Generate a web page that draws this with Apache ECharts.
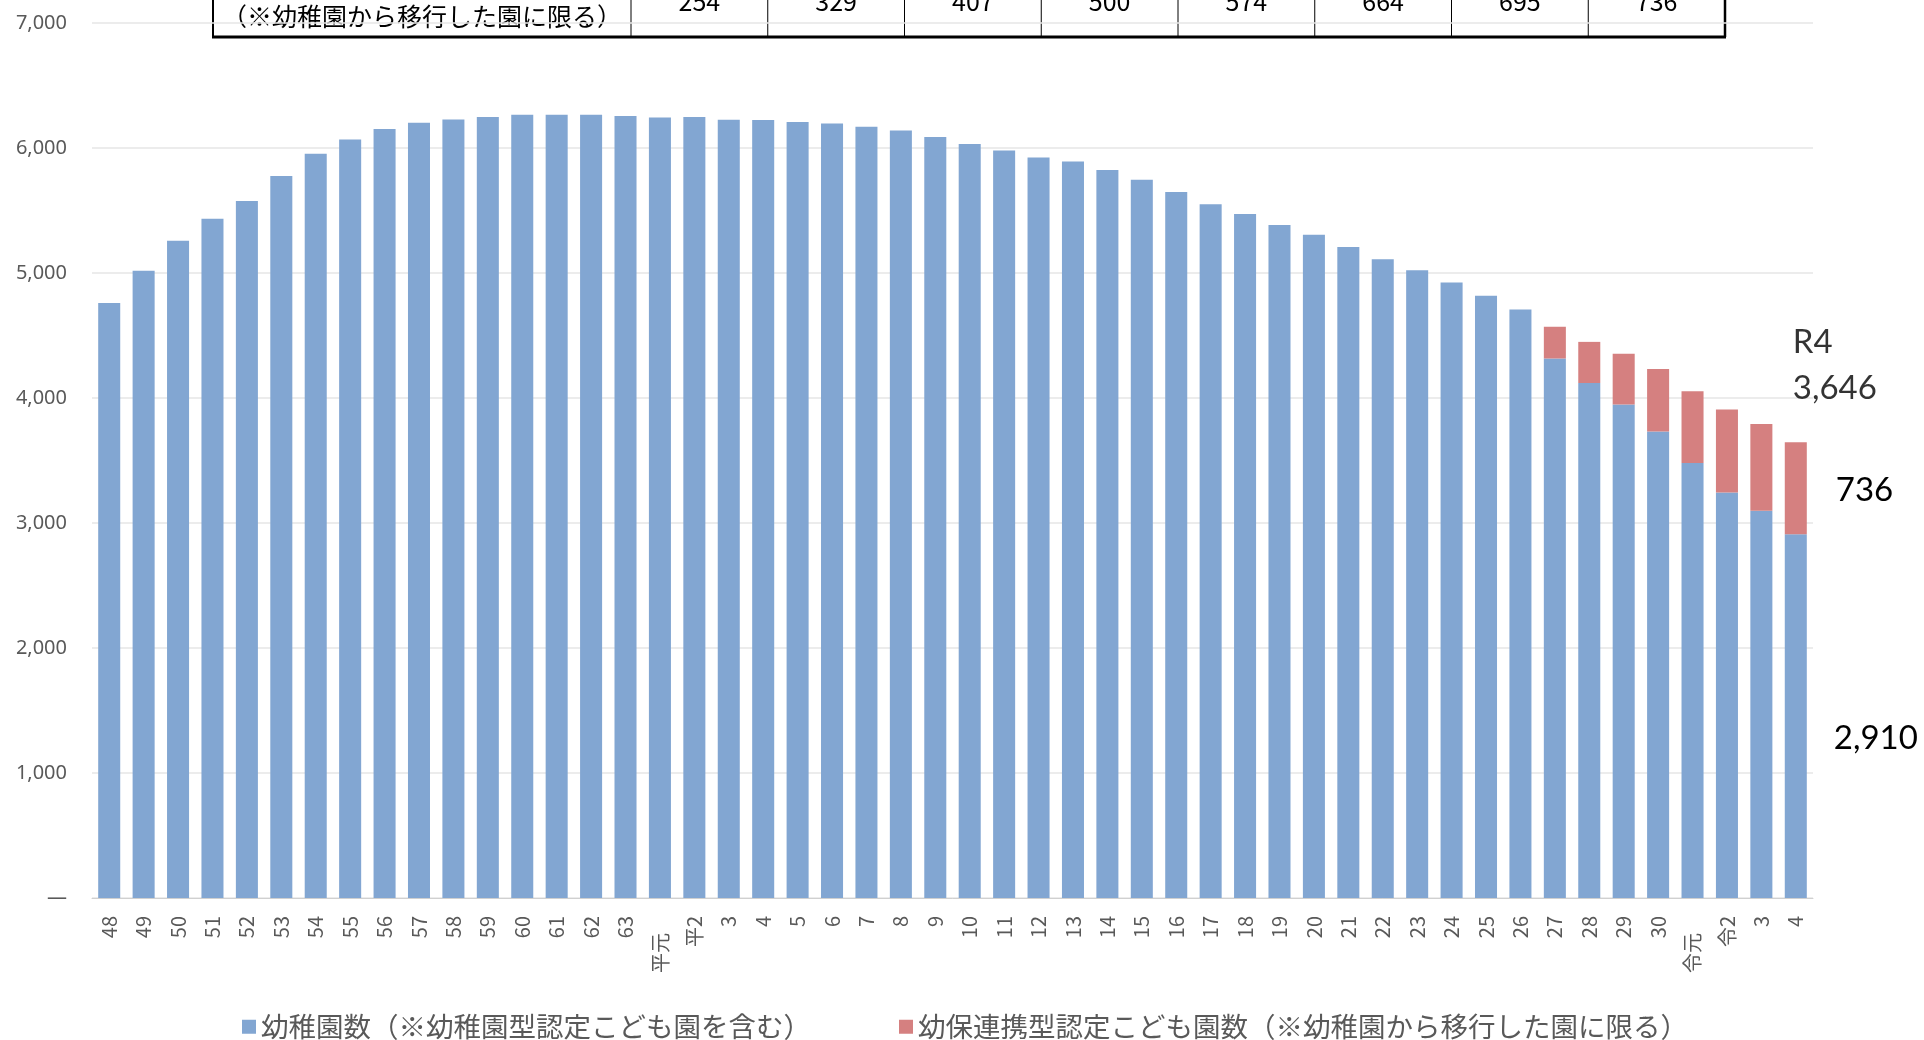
<!DOCTYPE html>
<html><head><meta charset="utf-8">
<script src="https://cdn.jsdelivr.net/npm/echarts@6/dist/echarts.min.js"></script>
<style>html,body{margin:0;padding:0;background:#fff}#c{width:1924px;height:1040px}</style>
</head><body><div id="c"></div>
<script>
const categories = ['48','49','50','51','52','53','54','55','56','57','58','59','60','61','62','63',
  '平元','平2','3','4','5','6','7','8','9','10','11','12','13','14','15','16','17','18','19','20',
  '21','22','23','24','25','26','27','28','29','30','令元','令2','3','4'];
const kindergartens = [4760,5018,5258,5434,5576,5776,5954,6069,6152,6202,6229,6248,6266,6266,6266,6256,
  6245,6248,6226,6224,6208,6197,6170,6141,6088,6032,5981,5925,5893,5824,5746,5648,5551,5473,5385,5306,
  5209,5111,5023,4925,4818,4709,4316,4120,3948,3733,3480,3245,3098,2910];
const kodomoen = [null,null,null,null,null,null,null,null,null,null,null,null,null,null,null,null,
  null,null,null,null,null,null,null,null,null,null,null,null,null,null,null,null,null,null,null,null,
  null,null,null,null,null,null,254,329,407,500,574,664,695,736];
const seriesNames = ['幼稚園数（※幼稚園型認定こども園を含む）','幼保連携型認定こども園数（※幼稚園から移行した園に限る）'];
const tableRowLabel = '（※幼稚園から移行した園に限る）';
const latestLabel = 'R4';

const fmt = v => v.toLocaleString('en-US');
const last = categories.length - 1;
const total = kindergartens[last] + kodomoen[last];

const blueData = kindergartens.map((v, i) => i === last ? {
  value: v,
  label: {show: true, position: 'right', distance: 27, offset: [0, 22], formatter: p => fmt(p.value),
    color: '#000', fontSize: 33, fontFamily: 'Lato'}
} : v);
const redData = kodomoen.map((v, i) => i === last ? {
  value: v,
  label: {show: true, position: 'right', distance: 29, offset: [0, 2], formatter: p => fmt(p.value),
    color: '#000', fontSize: 33, fontFamily: 'Lato'}
} : v);

// table (top, partially cut off)
const tableVals = kodomoen.filter(v => v !== null);
const tL = 213, tFirst = 631, tR = 1725, tBottom = 37;
const colW = (tR - tFirst) / tableVals.length;
const graphics = [];
graphics.push({type: 'line', shape: {x1: tL, y1: -5, x2: tL, y2: tBottom}, style: {stroke: '#000', lineWidth: 2}});
graphics.push({type: 'line', shape: {x1: tR, y1: -5, x2: tR, y2: tBottom}, style: {stroke: '#000', lineWidth: 2.5}});
graphics.push({type: 'line', shape: {x1: tL - 1, y1: tBottom, x2: tR + 1, y2: tBottom}, style: {stroke: '#000', lineWidth: 3}});
for (let k = 0; k < tableVals.length; k++) {
  const x = tFirst + k * colW;
  graphics.push({type: 'line', shape: {x1: x, y1: -5, x2: x, y2: tBottom - 1}, style: {stroke: '#000', lineWidth: 1}});
  graphics.push({type: 'text', x: x + colW / 2, y: 1, style: {text: String(tableVals[k]), fill: '#000',
    font: '25px "Noto Sans CJK JP"', textAlign: 'center', textVerticalAlign: 'middle'}});
}
graphics.push({type: 'text', x: (tL + tFirst) / 2, y: 16, style: {text: tableRowLabel, fill: '#000',
  font: '25px "Noto Sans CJK JP"', textAlign: 'center', textVerticalAlign: 'middle'}});

const chart = echarts.init(document.getElementById('c'), null, {renderer: 'canvas'});
chart.setOption({
  backgroundColor: '#fff',
  animation: false,
  grid: {left: 92, right: 111, top: 23, bottom: 142, containLabel: false},
  legend: {
    data: seriesNames, left: 237, top: 1008, itemWidth: 14, itemHeight: 14, itemGap: 88,
    icon: 'rect',
    textStyle: {color: '#595959', fontSize: 27.5, fontFamily: 'Noto Sans CJK JP'}
  },
  xAxis: {
    type: 'category', data: categories,
    axisLine: {lineStyle: {color: '#d0d0d0', width: 1}},
    axisTick: {show: false},
    axisLabel: {
      interval: 0, rotate: 90, margin: 18, color: '#595959', fontSize: 20, fontFamily: 'Noto Sans CJK JP',
      formatter: v => v.endsWith('元') ? '{g|' + v + '}' : v,
      rich: {g: {padding: [0, 17, 0, 0], color: '#595959', fontSize: 20, fontFamily: 'Noto Sans CJK JP'}}
    }
  },
  yAxis: {
    type: 'value', min: 0, max: 7000, interval: 1000,
    axisLine: {show: false}, axisTick: {show: false},
    splitLine: {lineStyle: {color: '#e6e6e6', width: 1.5}},
    axisLabel: {margin: 25, color: '#595959', fontSize: 20, fontFamily: 'Noto Sans',
      formatter: v => v === 0 ? '—' : fmt(v)}
  },
  series: [
    {name: seriesNames[0], type: 'bar', stack: 'a', data: blueData, barWidth: '64%',
      itemStyle: {color: '#82A6D2'}},
    {name: seriesNames[1], type: 'bar', stack: 'a', data: redData, barWidth: '64%',
      itemStyle: {color: '#D58080'}},
    {name: 'annot', type: 'scatter', data: [[last, total]], symbolSize: 0, silent: true,
      label: {show: true, position: 'top', distance: 31, align: 'left', offset: [-3, 0],
        formatter: () => latestLabel + '\n' + fmt(total), lineHeight: 46,
        color: '#000', fontSize: 33, fontFamily: 'Lato'}}
  ],
  graphic: graphics
});
</script>
</body></html>
